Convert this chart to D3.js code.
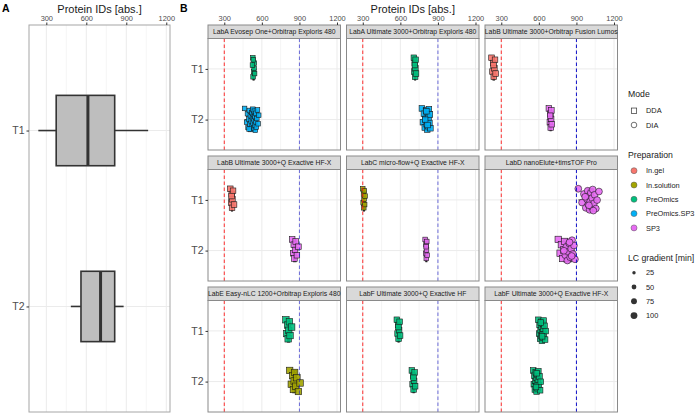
<!DOCTYPE html>
<html>
<head>
<meta charset="utf-8">
<script src="https://cdn.jsdelivr.net/npm/d3@7"></script>
<style>
  body { margin: 0; background: #fff; }
  text { font-family: "Liberation Sans", Arial, sans-serif; }
</style>
</head>
<body>
<div id="chart"></div>
<script>
// categories
const facetNames = [
    "LabA Evosep One+Orbitrap Exploris 480",
    "LabA Ultimate 3000+Orbitrap Exploris 480",
    "LabB Ultimate 3000+Orbitrap Fusion Lumos",
    "LabB Ultimate 3000+Q Exactive HF-X",
    "LabC micro-flow+Q Exactive HF-X",
    "LabD nanoElute+timsTOF Pro",
    "LabE Easy-nLC 1200+Orbitrap Exploris 480",
    "LabF Ultimate 3000+Q Exactive HF",
    "LabF Ultimate 3000+Q Exactive HF-X"
];
const timePoints = ["T1", "T2"];
const prepNames = ["In.gel", "In.solution", "PreOmics", "PreOmics.SP3", "SP3"];
const prepColors = ["#F8766D", "#A3A500", "#00BF7D", "#00B0F6", "#E76BF3"];
const modeNames = ["DDA", "DIA"];
const lcGradients = [25, 50, 75, 100];
const xTicks = [300, 600, 900, 1200];
const refLines = [300, 900];

// panel A: boxplot summary per time point
const boxLow = [240, 484];
const boxQ1 = [374, 560];
const boxMedian = [612, 707];
const boxQ3 = [813, 813];
const boxHigh = [1064, 880];

// panel B: protein IDs per facet
const idsT1 = [
    [528, 535, 540, 530, 538, 532, 542, 525],
    [708, 712, 715, 718, 720, 722, 725, 716],
    [222, 230, 235, 240, 245, 250, 255, 238],
    [348, 355, 360, 362, 365, 370, 378, 358],
    [300, 303, 306, 308, 310, 312, 315, 318],
    [915, 945, 960, 975, 985, 990, 995, 1000, 1005, 1010, 1015, 1020, 1025, 1030, 1040, 1045, 1055, 1065, 1080, 1000, 970, 1035],
    [792, 800, 805, 810, 815, 820, 825, 838],
    [572, 578, 582, 586, 590, 594, 598, 585],
    [596, 602, 606, 610, 614, 618, 620, 622, 625, 628, 630, 632, 635, 638, 640, 645, 650, 655, 615, 626]
];
const idsT2 = [
    [462, 478, 485, 490, 495, 500, 505, 508, 512, 515, 520, 522, 525, 528, 530, 533, 535, 538, 540, 543, 545, 548, 550, 553, 556, 560, 565, 570, 575, 498],
    [772, 780, 788, 795, 800, 805, 810, 812, 815, 818, 820, 822, 825, 828, 832, 836, 840, 798, 808, 817],
    [680, 688, 692, 695, 698, 700, 703, 690],
    [842, 850, 855, 860, 865, 870, 880, 892],
    [798, 802, 805, 807, 809, 811, 814, 806],
    [755, 770, 780, 790, 798, 805, 812, 820, 828, 835, 842, 850, 858, 865, 872, 880, 888, 800, 845, 862],
    [822, 835, 845, 852, 858, 862, 870, 880, 892, 905],
    [692, 698, 702, 706, 710, 714, 718, 705],
    [555, 560, 565, 568, 572, 575, 578, 580, 582, 585, 588, 590, 593, 596, 600, 605, 610, 615, 583, 577]
];
const prepT1 = ["PreOmics", "PreOmics", "In.gel", "In.gel", "In.solution", "SP3", "PreOmics", "PreOmics", "PreOmics"];
const prepT2 = ["PreOmics.SP3", "PreOmics.SP3", "SP3", "SP3", "SP3", "SP3", "In.solution", "PreOmics", "PreOmics"];
const modeT1 = ["DDA", "DDA", "DDA", "DDA", "DDA", "DIA", "DDA", "DDA", "DDA"];
const modeT2 = ["DDA", "DDA", "DDA", "DDA", "DDA",
    ["DDA", "DDA", "DDA", "DDA", "DDA", "DDA", "DIA", "DIA", "DIA", "DIA", "DIA", "DIA", "DIA", "DIA", "DIA", "DIA", "DIA", "DIA", "DIA", "DIA"],
    "DDA", "DDA", "DDA"];
const lcByFacet = [50, 75, 75, 75, 50, 100, 100, 75, 75];

const width = 696, height = 413;
const svg = d3.select("#chart").append("svg")
    .attr("width", width)
    .attr("height", height);
svg.append("rect").attr("width", width).attr("height", height).attr("fill", "#fff");

const gridCol = "#ebebeb";
const borderCol = "#8a8a8a";
const tickTextCol = "#4d4d4d";
const colour = d3.scaleOrdinal().domain(prepNames).range(prepColors);
const size = d3.scaleSqrt().domain([0, 100]).range([0, 3.4]);
const minorTicks = [450, 750, 1050];

// ---------- panel A ----------
const aLeft = 29, aRight = 170, aTop = 25, aBottom = 412;
const xA = d3.scaleLinear().domain([170, 1228]).range([aLeft, aRight]);
const yA = d3.scalePoint().domain(timePoints).range([aTop, aBottom]).padding(0.6);

const gA = svg.append("g");
gA.selectAll(".gminor").data(minorTicks).join("line")
    .attr("x1", d => xA(d)).attr("x2", d => xA(d))
    .attr("y1", aTop).attr("y2", aBottom)
    .attr("stroke", gridCol).attr("stroke-width", 0.5);
gA.selectAll(".gmajor").data(xTicks).join("line")
    .attr("x1", d => xA(d)).attr("x2", d => xA(d))
    .attr("y1", aTop).attr("y2", aBottom)
    .attr("stroke", gridCol).attr("stroke-width", 1);
gA.selectAll(".gy").data(timePoints).join("line")
    .attr("x1", aLeft).attr("x2", aRight)
    .attr("y1", d => yA(d)).attr("y2", d => yA(d))
    .attr("stroke", gridCol).attr("stroke-width", 1);

const boxHalf = yA.step() * 0.2;
timePoints.forEach((t, i) => {
    const cy = yA(t);
    gA.append("line")
        .attr("x1", xA(boxLow[i])).attr("x2", xA(boxQ1[i]))
        .attr("y1", cy).attr("y2", cy)
        .attr("stroke", "#333").attr("stroke-width", 1.6);
    gA.append("line")
        .attr("x1", xA(boxQ3[i])).attr("x2", xA(boxHigh[i]))
        .attr("y1", cy).attr("y2", cy)
        .attr("stroke", "#333").attr("stroke-width", 1.6);
    gA.append("rect")
        .attr("x", xA(boxQ1[i])).attr("width", xA(boxQ3[i]) - xA(boxQ1[i]))
        .attr("y", cy - boxHalf).attr("height", boxHalf * 2)
        .attr("fill", "#bebebe").attr("stroke", "#333").attr("stroke-width", 1.6);
    gA.append("line")
        .attr("x1", xA(boxMedian[i])).attr("x2", xA(boxMedian[i]))
        .attr("y1", cy - boxHalf).attr("y2", cy + boxHalf)
        .attr("stroke", "#333").attr("stroke-width", 3);
});

gA.append("rect")
    .attr("x", aLeft).attr("y", aTop)
    .attr("width", aRight - aLeft).attr("height", aBottom - aTop)
    .attr("fill", "none").attr("stroke", "#a6a6a6").attr("stroke-width", 1);

function topAxis(g, scale) {
    g.call(d3.axisTop(scale).tickValues(xTicks).tickFormat(d3.format("d")).tickSize(2.5).tickPadding(1.5));
    g.select(".domain").remove();
    g.selectAll(".tick line").attr("stroke", "#333");
    g.selectAll(".tick text").attr("fill", tickTextCol).attr("font-size", 7.4)
        .attr("font-family", "Liberation Sans, Arial, sans-serif");
}
function leftAxis(g, scale) {
    g.call(d3.axisLeft(scale).tickSize(2.5).tickPadding(2));
    g.select(".domain").remove();
    g.selectAll(".tick line").attr("stroke", "#333");
    g.selectAll(".tick text").attr("fill", tickTextCol).attr("font-size", 10.5)
        .attr("font-family", "Liberation Sans, Arial, sans-serif");
}

topAxis(gA.append("g").attr("transform", `translate(0,${aTop})`), xA);
leftAxis(gA.append("g").attr("transform", `translate(${aLeft},0)`), yA);

gA.append("text").attr("x", (aLeft + aRight) / 2).attr("y", 12.5)
    .attr("text-anchor", "middle").attr("font-size", 11).attr("fill", "#1a1a1a")
    .text("Protein IDs [abs.]");
svg.append("text").attr("x", 2).attr("y", 12).attr("font-size", 10.5)
    .attr("font-weight", "bold").text("A");

// ---------- panel B ----------
const bLeft = 208, bRight = 617.5, bTop = 25, bBottom = 412;
const stripH = 13.5;
const colBand = d3.scaleBand().domain([0, 1, 2]).range([bLeft, bRight]).paddingInner(0.0433);
const rowBand = d3.scaleBand().domain([0, 1, 2]).range([bTop, bBottom]).paddingInner(0.0458);

svg.append("text").attr("x", 180).attr("y", 12).attr("font-size", 10.5)
    .attr("font-weight", "bold").text("B");
svg.append("text").attr("x", (bLeft + bRight) / 2).attr("y", 12.5)
    .attr("text-anchor", "middle").attr("font-size", 11).attr("fill", "#1a1a1a")
    .text("Protein IDs [abs.]");

function drawMark(sel, mode, r) {
    if (mode === "DDA") {
        return sel.append("rect")
            .attr("x", -r * 0.95).attr("y", -r * 0.95)
            .attr("width", r * 1.9).attr("height", r * 1.9);
    }
    return sel.append("circle").attr("r", r);
}

facetNames.forEach((name, f) => {
    const col = f % 3, row = Math.floor(f / 3);
    const left = colBand(col), w = colBand.bandwidth();
    const top = rowBand(row), pTop = top + stripH, pBottom = top + rowBand.bandwidth();
    const x = d3.scaleLinear().domain([170, 1228]).range([left, left + w]);
    const y = d3.scalePoint().domain(timePoints).range([pTop, pBottom]).padding(0.6);
    const g = svg.append("g");

    g.selectAll(".gminor").data(minorTicks).join("line")
        .attr("x1", d => x(d)).attr("x2", d => x(d))
        .attr("y1", pTop).attr("y2", pBottom)
        .attr("stroke", gridCol).attr("stroke-width", 0.5);
    g.selectAll(".gmajor").data(xTicks).join("line")
        .attr("x1", d => x(d)).attr("x2", d => x(d))
        .attr("y1", pTop).attr("y2", pBottom)
        .attr("stroke", gridCol).attr("stroke-width", 1);
    g.selectAll(".gy").data(timePoints).join("line")
        .attr("x1", left).attr("x2", left + w)
        .attr("y1", d => y(d)).attr("y2", d => y(d))
        .attr("stroke", gridCol).attr("stroke-width", 1);

    const groups = [
        { t: "T1", vals: idsT1[f], prep: prepT1[f], mode: modeT1[f] },
        { t: "T2", vals: idsT2[f], prep: prepT2[f], mode: modeT2[f] }
    ];

    // boxplots behind points
    const bh = y.step() * 0.22;
    groups.forEach(gr => {
        const s = gr.vals.slice().sort(d3.ascending);
        const q1 = d3.quantile(s, 0.25), q2 = d3.quantile(s, 0.5), q3 = d3.quantile(s, 0.75);
        const cy = y(gr.t);
        g.append("line").attr("x1", x(s[0])).attr("x2", x(s[s.length - 1]))
            .attr("y1", cy).attr("y2", cy).attr("stroke", "#222").attr("stroke-width", 0.8);
        g.append("rect").attr("x", x(q1)).attr("width", Math.max(1, x(q3) - x(q1)))
            .attr("y", cy - bh).attr("height", bh * 2)
            .attr("fill", "#b3b3b3").attr("stroke", "#222").attr("stroke-width", 1);
        g.append("line").attr("x1", x(q2)).attr("x2", x(q2))
            .attr("y1", cy - bh).attr("y2", cy + bh)
            .attr("stroke", "#222").attr("stroke-width", 1.6);
    });

    // points, spread vertically inside the group band
    groups.forEach(gr => {
        gr.vals.forEach((v, i) => {
            const mode = Array.isArray(gr.mode) ? gr.mode[i] : gr.mode;
            const off = (((i * 0.618034) % 1) - 0.5) * 0.44 * y.step();
            const p = g.append("g").attr("transform", `translate(${x(v)},${y(gr.t) + off})`);
            drawMark(p, mode, size(lcByFacet[f]))
                .attr("fill", colour(gr.prep)).attr("fill-opacity", 0.9)
                .attr("stroke", "#1a1a1a").attr("stroke-width", 0.6);
        });
    });

    // reference lines on top
    g.selectAll(".ref").data(refLines).join("line")
        .attr("x1", d => x(d)).attr("x2", d => x(d))
        .attr("y1", pTop).attr("y2", pBottom)
        .attr("stroke", (d, i) => i === 0 ? "#ff1a1a" : "#1010c8")
        .attr("stroke-opacity", (d, i) => i === 0 ? 0.9 : (col === 2 ? 1 : 0.6))
        .attr("stroke-width", 1)
        .attr("stroke-dasharray", "3.5,2.5");

    // border + strip
    g.append("rect").attr("x", left).attr("y", pTop).attr("width", w).attr("height", pBottom - pTop)
        .attr("fill", "none").attr("stroke", borderCol).attr("stroke-width", 1);
    g.append("rect").attr("x", left).attr("y", top).attr("width", w).attr("height", stripH)
        .attr("fill", "#d9d9d9").attr("stroke", borderCol).attr("stroke-width", 1);
    g.append("text").attr("x", left + w / 2).attr("y", top + stripH / 2 + 2.4)
        .attr("text-anchor", "middle").attr("font-size", 6.8).attr("fill", "#1a1a1a")
        .text(name);

    if (row === 0) topAxis(g.append("g").attr("transform", `translate(0,${top})`), x);
    if (col === 0) leftAxis(g.append("g").attr("transform", `translate(${left},0)`), y);
});

// ---------- legends ----------
const lg = svg.append("g");
const legX = 628, symX = 634, labX = 646, step = 14.3;
function legendTitle(txt, yy) {
    lg.append("text").attr("x", legX).attr("y", yy + 3.3).attr("font-size", 8.7)
        .attr("fill", "#1a1a1a").text(txt);
}
function legendLabel(txt, yy) {
    lg.append("text").attr("x", labX).attr("y", yy + 2.6).attr("font-size", 7.4)
        .attr("fill", "#1a1a1a").text(txt);
}

legendTitle("Mode", 94);
modeNames.forEach((m, i) => {
    const yy = 110.7 + i * step;
    const p = lg.append("g").attr("transform", `translate(${symX},${yy})`);
    drawMark(p, m, 2.8).attr("fill", "none").attr("stroke", "#333").attr("stroke-width", 0.7);
    legendLabel(m, yy);
});

legendTitle("Preparation", 155);
prepNames.forEach((p, i) => {
    const yy = 170.7 + i * step;
    lg.append("circle").attr("cx", symX).attr("cy", yy).attr("r", 3)
        .attr("fill", colour(p)).attr("stroke", "#555").attr("stroke-width", 0.5);
    legendLabel(p, yy);
});

legendTitle("LC gradient [min]", 258);
lcGradients.forEach((lc, i) => {
    const yy = 272.7 + i * step;
    lg.append("circle").attr("cx", symX).attr("cy", yy).attr("r", size(lc))
        .attr("fill", "#333");
    legendLabel(String(lc), yy);
});
</script>
</body>
</html>
